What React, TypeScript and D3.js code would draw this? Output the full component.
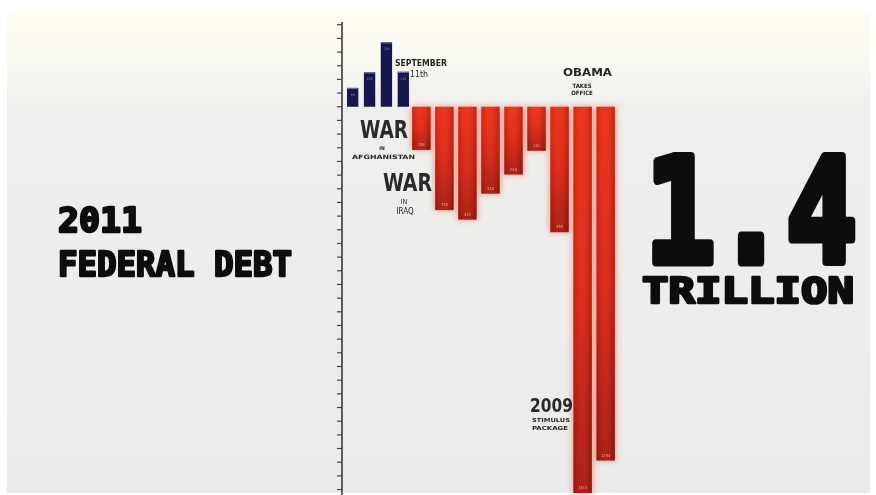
import React from "react";
import * as d3 from "d3";

const surplusYears = ["1998", "1999", "2000", "2001"];
const surplusValues = [69, 126, 236, 128];
const deficitYears = ["2002", "2003", "2004", "2005", "2006", "2007", "2008", "2009", "2010"];
const deficitValues = [-158, -378, -413, -318, -248, -161, -459, -1413, -1294];
const tickValues = d3.range(-1400, 301, 50);

const W = 876;
const H = 495;

export default function App() {
  const y = d3.scaleLinear().domain([-1420, 310]).range([495, 22]);
  const xS = d3.scaleBand<string>().domain(surplusYears).range([345, 411]).paddingInner(0.33).paddingOuter(0.12);
  const xD = d3.scaleBand<string>().domain(deficitYears).range([411, 616]).paddingInner(0.2).paddingOuter(0.05);
  const y0 = y(0);
  const axisX = 342;
  const cond = "'DejaVu Sans Condensed', 'Liberation Sans Narrow', sans-serif";
  const mono = "'DejaVu Sans Mono', monospace";

  return (
    <svg width={W} height={H} style={{ position: "absolute", left: 0, top: 0 }}>
      <defs>
        <linearGradient id="bg" x1="0" y1="0" x2="0" y2="1">
          <stop offset="0" stopColor="#fefcf0" />
          <stop offset="0.09" stopColor="#fbfaf2" />
          <stop offset="0.2" stopColor="#eeeeec" />
          <stop offset="1" stopColor="#ebebeb" />
        </linearGradient>
        <linearGradient id="red" x1="0" y1="0" x2="0" y2="1">
          <stop offset="0" stopColor="#f02a12" />
          <stop offset="0.5" stopColor="#dc220f" />
          <stop offset="1" stopColor="#a8170b" />
        </linearGradient>
        <linearGradient id="redH" x1="0" y1="0" x2="1" y2="0">
          <stop offset="0" stopColor="#000" stopOpacity="0.12" />
          <stop offset="0.4" stopColor="#fff" stopOpacity="0.05" />
          <stop offset="1" stopColor="#000" stopOpacity="0.18" />
        </linearGradient>
        <filter id="glow" x="-50%" y="-10%" width="200%" height="120%">
          <feGaussianBlur stdDeviation="3" />
        </filter>
        <filter id="soft" x="-10%" y="-10%" width="120%" height="120%">
          <feGaussianBlur stdDeviation="0.5" />
        </filter>
        <filter id="tshadow" x="-10%" y="-20%" width="120%" height="140%">
          <feGaussianBlur stdDeviation="0.7" />
        </filter>
      </defs>
      <rect x={0} y={0} width={W} height={H} fill="#ffffff" />
      <rect x={7} y={12} width={863} height={481} fill="url(#bg)" />

      {/* axis */}
      <g filter="url(#soft)">
        <line x1={axisX} x2={axisX} y1={y(310)} y2={495} stroke="#3a3a3a" strokeWidth={1.6} />
        {tickValues.map((t) => (
          <line key={t} x1={axisX - 5} x2={axisX} y1={y(t)} y2={y(t)} stroke="#444" strokeWidth={1.2} />
        ))}
      </g>

      {/* deficit bars glow */}
      <g filter="url(#glow)" opacity={0.45}>
        {deficitValues.map((v, i) => (
          <rect key={i} x={xD(deficitYears[i])! - 1} y={y0} width={xD.bandwidth() + 2} height={y(v) - y0} fill="#f04020" />
        ))}
      </g>
      {/* deficit bars */}
      <g filter="url(#soft)">
        {deficitValues.map((v, i) => (
          <g key={i}>
            <rect x={xD(deficitYears[i])!} y={y0} width={xD.bandwidth()} height={y(v) - y0} fill="url(#red)" />
            <rect x={xD(deficitYears[i])!} y={y0} width={xD.bandwidth()} height={y(v) - y0} fill="url(#redH)" />
            <text x={xD(deficitYears[i])! + xD.bandwidth() / 2} y={y(v) - 4} textAnchor="middle" fontSize={4} fill="#f2a08c" fontFamily={cond}>
              {Math.abs(v)}
            </text>
          </g>
        ))}
      </g>

      {/* surplus bars */}
      <g filter="url(#soft)">
        {surplusValues.map((v, i) => (
          <g key={i}>
            <rect x={xS(surplusYears[i])!} y={y(v)} width={xS.bandwidth()} height={y0 - y(v)} fill="#17174f" />
            <rect x={xS(surplusYears[i])!} y={y(v)} width={xS.bandwidth()} height={1.2} fill="#6a6a9a" />
            <text x={xS(surplusYears[i])! + xS.bandwidth() / 2} y={y(v) + 8} textAnchor="middle" fontSize={3.5} fill="#8a8ab0" fontFamily={cond}>
              {v}
            </text>
          </g>
        ))}
      </g>

      {/* baseline */}
      <line x1={axisX} x2={616} y1={y0} y2={y0} stroke="#1c1414" strokeWidth={2.2} filter="url(#soft)" />

      {/* annotations */}
      <g fill="#262626" fontFamily={cond} filter="url(#soft)">
        <text x={395} y={66} fontSize={9} fontWeight="bold" textLength={52} lengthAdjust="spacingAndGlyphs">SEPTEMBER</text>
        <text x={410} y={77} fontSize={8} textLength={18} lengthAdjust="spacingAndGlyphs">11th</text>

        <text x={563} y={76} fontSize={11} fontWeight="bold" textLength={49} lengthAdjust="spacingAndGlyphs">OBAMA</text>
        <text x={582} y={88} fontSize={6} textAnchor="middle" fontWeight="bold">TAKES</text>
        <text x={582} y={95} fontSize={6} textAnchor="middle" fontWeight="bold">OFFICE</text>

        <text x={360} y={138} fontSize={25} fontWeight="bold" fill="#2a2a2a" textLength={48} lengthAdjust="spacingAndGlyphs">WAR</text>
        <text x={382} y={150} fontSize={5} textAnchor="middle" fontWeight="bold">IN</text>
        <text x={352} y={159} fontSize={6} fontWeight="bold" textLength={63} lengthAdjust="spacingAndGlyphs">AFGHANISTAN</text>

        <text x={383} y={191} fontSize={25} fontWeight="bold" fill="#2a2a2a" textLength={49} lengthAdjust="spacingAndGlyphs">WAR</text>
        <text x={404} y={204} fontSize={7} textAnchor="middle">IN</text>
        <text x={405} y={214} fontSize={8} textAnchor="middle">IRAQ</text>

        <text x={530} y={412} fontSize={19} fontWeight="bold" fill="#2a2a2a" textLength={43} lengthAdjust="spacingAndGlyphs">2009</text>
        <text x={532} y={422} fontSize={5.5} fontWeight="bold" textLength={38} lengthAdjust="spacingAndGlyphs">STIMULUS</text>
        <text x={532} y={430} fontSize={5.5} fontWeight="bold" textLength={36} lengthAdjust="spacingAndGlyphs">PACKAGE</text>
      </g>

      {/* titles */}
      <g fill="#0c0c0c" stroke="#0c0c0c" strokeLinejoin="round" fontFamily={mono} fontWeight="bold">
        <g filter="url(#tshadow)">
          <text x={58} y={232} fontSize={34} strokeWidth={2.4} textLength={84} lengthAdjust="spacingAndGlyphs">2011</text>
          <text x={58} y={276} fontSize={34} strokeWidth={2.4} textLength={234} lengthAdjust="spacingAndGlyphs">FEDERAL DEBT</text>
          <text x={645} y={262} fontSize={145} strokeWidth={9} textLength={212} lengthAdjust="spacingAndGlyphs">1.4</text>
          <text x={642} y={303} fontSize={36} strokeWidth={2.6} textLength={212} lengthAdjust="spacingAndGlyphs">TRILLION</text>
        </g>
      </g>
    </svg>
  );
}
